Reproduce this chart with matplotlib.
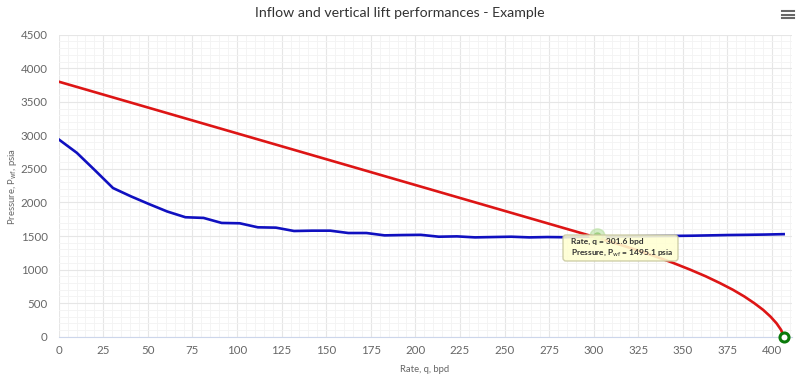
import matplotlib.pyplot as plt
from matplotlib.patches import FancyBboxPatch
from matplotlib.lines import Line2D

# IPR (inflow) curve
ipr_q = [0, 50, 100, 150, 200, 250, 298.7, 311.3, 323.1, 334.2, 344.5, 354.0,
         362.8, 370.7, 378.0, 384.4, 390.0, 395.0, 399.1, 402.5, 405.1, 406.5]
ipr_p = [3800, 3415, 3030, 2645, 2260, 1875, 1500, 1400, 1300, 1200, 1100, 1000,
         900, 800, 700, 600, 500, 400, 300, 200, 100, 0]

# VLP (vertical lift) curve
vlp_q = [0, 10.15, 20.3, 30.45, 40.6, 50.75, 60.9, 71.05, 81.2, 91.35, 101.5,
         111.65, 121.8, 131.95, 142.1, 152.25, 162.4, 172.55, 182.7, 192.85, 203,
         213.15, 223.3, 233.45, 243.6, 253.75, 263.9, 274.05, 284.2, 294.35, 304.5,
         314.65, 324.8, 334.95, 345.1, 355.25, 365.4, 375.55, 385.7, 395.85, 406.5]
vlp_p = [2940, 2740, 2480, 2215, 2090, 1975, 1865, 1780, 1770, 1695, 1690,
         1630, 1625, 1575, 1580, 1580, 1545, 1545, 1510, 1515, 1518,
         1490, 1495, 1480, 1485, 1490, 1480, 1485, 1482, 1490, 1492,
         1495, 1497, 1500, 1502, 1505, 1510, 1515, 1518, 1522, 1528]

op_q, op_p = 301.6, 1495.1
aof_q, aof_p = 406.5, 0

plt.rcParams['font.family'] = ['Lato', 'DejaVu Sans']

W, H = 800, 375
fig = plt.figure(figsize=(8, 3.75), dpi=100)
ax = fig.add_axes([0.0734, 0.1021, 0.9896 - 0.0734, 0.9075 - 0.1021])

ax.set_xlim(0, 411)
ax.set_ylim(0, 4500)
ax.set_xticks(range(0, 401, 25))
ax.set_yticks(range(0, 4501, 500))
ax.set_xticks([x for x in range(0, 411, 5) if x % 25], minor=True)
ax.set_yticks([y for y in range(0, 4501, 100) if y % 500], minor=True)
ax.grid(True, which='major', color='#e6e6e6', lw=0.8)
ax.grid(True, which='minor', color='#f3f3f3', lw=0.6)
ax.set_axisbelow(True)
for s in ['top', 'right', 'left']:
    ax.spines[s].set_visible(False)
ax.spines['bottom'].set_color('#ccd6eb')
ax.tick_params(which='both', length=0, labelsize=8.3, colors='#666666')
ax.tick_params(axis='x', pad=6)
ax.tick_params(axis='y', pad=8)

ax.plot(vlp_q, vlp_p, color='#1010c0', lw=1.9, zorder=3)
ax.plot(ipr_q, ipr_p, color='#dd1515', lw=1.9, zorder=3)

ax.plot(aof_q, aof_p, 'o', ms=6.5, mfc='white', mec='#0a7a0a', mew=2.2,
        zorder=5, clip_on=False)
ax.plot(op_q, op_p, 'o', ms=11, color='#b8e0a0', alpha=0.6, zorder=4)
ax.plot(op_q, op_p, 'o', ms=5, color='#9ed080', zorder=4)

# tooltip
tip = FancyBboxPatch((563 / W, 1 - 261 / H), 115 / W, 26 / H,
                     boxstyle='round,pad=0,rounding_size=%f' % (3 / W),
                     mutation_aspect=W / H, transform=fig.transFigure,
                     fc='#ffffd2', ec='#c9c9a0', lw=1, alpha=0.88, zorder=6)
fig.add_artist(tip)
fig.text(571 / W, 1 - 241 / H, 'Rate, q = 301.6 bpd', fontsize=6.0,
         fontweight='bold', color='#333333', va='center', zorder=7)
fig.text(571 / W, 1 - 253 / H, r'Pressure, P$_{\rm wf}$ = 1495.1 psia',
         fontsize=6.0, fontweight='bold', color='#333333', va='center', zorder=7)

fig.text(425 / W, 1 - 369 / H, 'Rate, q, bpd', fontsize=6.8, color='#666666',
         ha='center', va='center')
fig.text(13 / W, 1 - 186 / H, r'Pressure, P$_{\rm wf}$, psia', fontsize=6.8,
         color='#666666', ha='center', va='center', rotation=90)

fig.text(0.5, 1 - 13 / H, 'Inflow and vertical lift performances - Example',
         ha='center', va='center', fontsize=10.2, color='#333333')

# menu icon
for yy in (11, 14.5, 18):
    fig.add_artist(Line2D([782 / W, 794 / W], [1 - yy / H, 1 - yy / H],
                          color='#666666', lw=1.5, transform=fig.transFigure))

fig.savefig('out.png', dpi=100)
